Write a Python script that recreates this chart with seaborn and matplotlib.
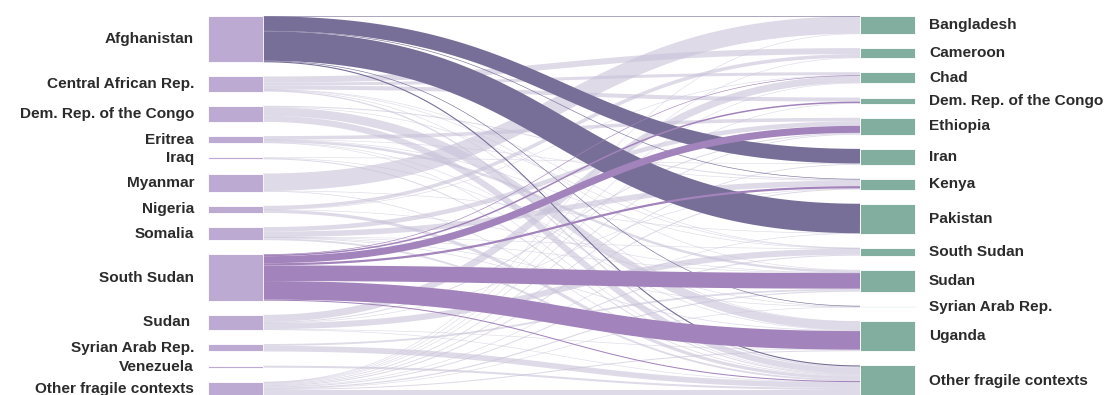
import numpy as np
import matplotlib
matplotlib.use("Agg")
import matplotlib.pyplot as plt
from matplotlib.patches import Rectangle
import seaborn as sns

# ---------------- data ----------------
source_names = ["Afghanistan", "Central African Rep.", "Dem. Rep. of the Congo", "Eritrea",
                "Iraq", "Myanmar", "Nigeria", "Somalia", "South Sudan", "Sudan ",
                "Syrian Arab Rep.", "Venezuela", "Other fragile contexts"]
target_names = ["Bangladesh", "Cameroon", "Chad", "Dem. Rep. of the Congo", "Ethiopia", "Iran",
                "Kenya", "Pakistan", "South Sudan", "Sudan", "Syrian Arab Rep.", "Uganda",
                "Other fragile contexts"]

# flows in thousands of people (origin -> host)
afg_targets = ["Bangladesh", "Iran", "Kenya", "Pakistan", "Syrian Arab Rep.", "Other fragile contexts"]
afg_values = [15, 725, 20, 1465, 20, 55]
car_targets = ["Cameroon", "Chad", "Dem. Rep. of the Congo", "South Sudan", "Sudan", "Uganda", "Other fragile contexts"]
car_values = [300, 150, 200, 5, 25, 5, 65]
drc_targets = ["Kenya", "South Sudan", "Uganda", "Other fragile contexts"]
drc_values = [50, 20, 425, 305]
eri_targets = ["Ethiopia", "Kenya", "South Sudan", "Sudan", "Uganda", "Other fragile contexts"]
eri_values = [175, 10, 5, 120, 15, 25]
irq_targets = ["Iran", "Syrian Arab Rep.", "Other fragile contexts"]
irq_values = [25, 25, 50]
mmr_targets = ["Bangladesh", "Pakistan", "Other fragile contexts"]
mmr_values = [860, 5, 35]
nga_targets = ["Cameroon", "Chad", "Sudan", "Other fragile contexts"]
nga_values = [175, 15, 5, 155]
som_targets = ["Ethiopia", "Kenya", "South Sudan", "Sudan", "Syrian Arab Rep.", "Uganda", "Other fragile contexts"]
som_values = [225, 275, 5, 10, 10, 35, 90]
ssd_targets = ["Chad", "Dem. Rep. of the Congo", "Ethiopia", "Kenya", "Sudan", "Uganda", "Other fragile contexts"]
ssd_values = [15, 75, 350, 110, 775, 925, 50]
sdn_targets = ["Chad", "Ethiopia", "Kenya", "South Sudan", "Uganda", "Other fragile contexts"]
sdn_values = [350, 50, 10, 300, 25, 10]
syr_targets = ["Sudan", "Other fragile contexts"]
syr_values = [90, 280]
ven_targets = ["Other fragile contexts"]
ven_values = [100]
oth_targets = ["Bangladesh", "Cameroon", "Chad", "Dem. Rep. of the Congo", "Ethiopia", "Iran", "Kenya",
               "Pakistan", "South Sudan", "Sudan", "Syrian Arab Rep.", "Uganda", "Other fragile contexts"]
oth_values = [15, 15, 25, 25, 40, 40, 50, 20, 50, 60, 10, 50, 350]

origin_blocks = [afg_targets, car_targets, drc_targets, eri_targets, irq_targets, mmr_targets,
                 nga_targets, som_targets, ssd_targets, sdn_targets, syr_targets, ven_targets, oth_targets]
origin_values = [afg_values, car_values, drc_values, eri_values, irq_values, mmr_values,
                 nga_values, som_values, ssd_values, sdn_values, syr_values, ven_values, oth_values]

highlight_colors = {0: "#776f97", 8: "#a383bb"}   # Afghanistan, South Sudan

# ---------------- style ----------------
sns.set_theme(style="white")
plt.rcParams["font.family"] = ["Liberation Sans", "DejaVu Sans"]

LEFT_X0, NODE_W, RIGHT_X0 = 208, 55, 860
Y_TOP, Y_BOTTOM, PAD = 16, 397, 14.2
LEFT_COLOR, RIGHT_COLOR = "#bcaad2", "#82ae9f"
LINK_GREY = "#c8c2d8"
TEXT_COLOR = "#2b2b2b"
FONT_SIZE = 11.1

# ---------------- build links ----------------
links = []
for si, (tg, vals) in enumerate(zip(origin_blocks, origin_values)):
    for t, v in zip(tg, vals):
        links.append({"s": si, "t": target_names.index(t), "v": v})

n_s, n_t = len(source_names), len(target_names)
s_tot = np.zeros(n_s)
t_tot = np.zeros(n_t)
for l in links:
    s_tot[l["s"]] += l["v"]
    t_tot[l["t"]] += l["v"]

ky = min((Y_BOTTOM - Y_TOP - (n_s - 1) * PAD) / s_tot.sum(),
         (Y_BOTTOM - Y_TOP - (n_t - 1) * PAD) / t_tot.sum())

def stack(totals):
    y = Y_TOP
    out = []
    for v in totals:
        out.append((y, y + v * ky))
        y += v * ky + PAD
    return out

s_pos = stack(s_tot)
t_pos = stack(t_tot)

# link breadths
for si in range(n_s):
    y = s_pos[si][0]
    for l in sorted([l for l in links if l["s"] == si], key=lambda l: l["t"]):
        w = l["v"] * ky
        l["y0"] = y + w / 2
        l["w"] = w
        y += w
for ti in range(n_t):
    y = t_pos[ti][0]
    for l in sorted([l for l in links if l["t"] == ti], key=lambda l: l["s"]):
        w = l["v"] * ky
        l["y1"] = y + w / 2
        y += w

# ---------------- draw ----------------
fig = plt.figure(figsize=(11.05, 3.95), dpi=100)
ax = fig.add_axes([0, 0, 1, 1])
ax.set_xlim(0, 1105)
ax.set_ylim(395, 0)
ax.axis("off")

x0 = LEFT_X0 + NODE_W
x1 = RIGHT_X0
xm = (x0 + x1) / 2
tt = np.linspace(0, 1, 120)
bx = (1 - tt) ** 3 * x0 + 3 * (1 - tt) ** 2 * tt * xm + 3 * (1 - tt) * tt ** 2 * xm + tt ** 3 * x1
by0 = (1 - tt) ** 3 + 3 * (1 - tt) ** 2 * tt
by1 = 3 * (1 - tt) * tt ** 2 + tt ** 3

pt = 72 / fig.dpi
ordered = [l for l in links if l["s"] not in highlight_colors] + \
          [l for l in links if l["s"] in highlight_colors]
for l in ordered:
    ys = l["y0"] * by0 + l["y1"] * by1
    if l["s"] in highlight_colors:
        ax.plot(bx, ys, color=highlight_colors[l["s"]], lw=max(l["w"], 0.6) * pt,
                solid_capstyle="butt", alpha=1.0, zorder=3)
    else:
        ax.plot(bx, ys, color=LINK_GREY, lw=max(l["w"], 0.6) * pt,
                solid_capstyle="butt", alpha=0.6, zorder=2)

for name, (a, b) in zip(source_names, s_pos):
    ax.add_patch(Rectangle((LEFT_X0, a), NODE_W, b - a, fc=LEFT_COLOR, ec="white", lw=0.6, zorder=4))
    ax.text(LEFT_X0 - 14, (a + b) / 2, name, ha="right", va="center", fontsize=FONT_SIZE,
            fontweight="bold", color=TEXT_COLOR)
for name, (a, b) in zip(target_names, t_pos):
    ax.add_patch(Rectangle((RIGHT_X0, a), NODE_W, b - a, fc=RIGHT_COLOR, ec="white", lw=0.6, zorder=4))
    ax.text(RIGHT_X0 + NODE_W + 14, (a + b) / 2, name, ha="left", va="center", fontsize=FONT_SIZE,
            fontweight="bold", color=TEXT_COLOR)

fig.savefig("out.png", dpi=100)
